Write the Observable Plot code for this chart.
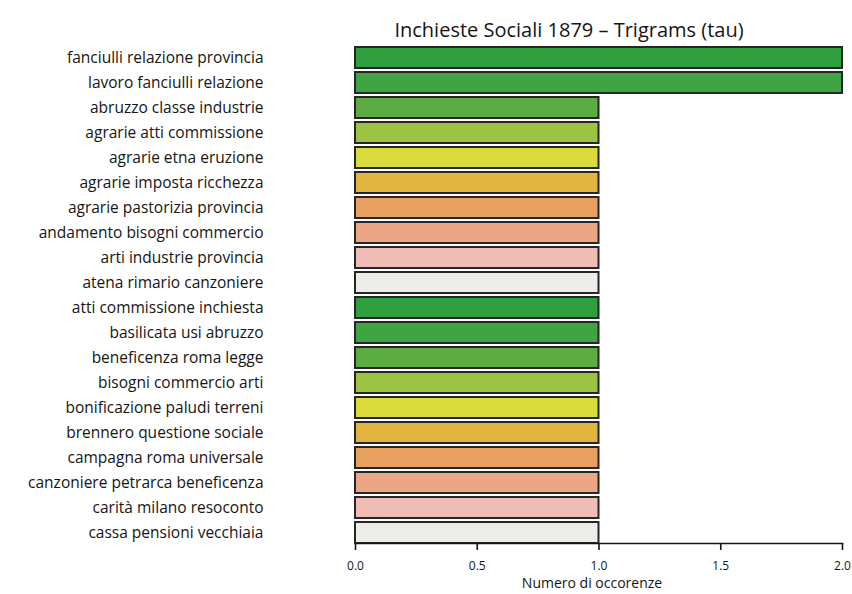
<!DOCTYPE html>
<html>
<head>
<meta charset="utf-8">
<script src="https://cdn.jsdelivr.net/npm/d3@7"></script>
<script src="https://cdn.jsdelivr.net/npm/@observablehq/plot@0.6"></script>
<style>
  body { margin: 0; background: #fff; }
  #chart svg { display: block; }
</style>
</head>
<body>
<div id="chart"></div>
<script>
const categories = [
  "fanciulli relazione provincia",
  "lavoro fanciulli relazione",
  "abruzzo classe industrie",
  "agrarie atti commissione",
  "agrarie etna eruzione",
  "agrarie imposta ricchezza",
  "agrarie pastorizia provincia",
  "andamento bisogni commercio",
  "arti industrie provincia",
  "atena rimario canzoniere",
  "atti commissione inchiesta",
  "basilicata usi abruzzo",
  "beneficenza roma legge",
  "bisogni commercio arti",
  "bonificazione paludi terreni",
  "brennero questione sociale",
  "campagna roma universale",
  "canzoniere petrarca beneficenza",
  "carità milano resoconto",
  "cassa pensioni vecchiaia"
];
const values = [2, 2, 1, 1, 1, 1, 1, 1, 1, 1, 1, 1, 1, 1, 1, 1, 1, 1, 1, 1];
const palette = ["#2f9f3f", "#3fa443", "#5cac43", "#9bc443", "#d9dc3c",
                 "#e2b440", "#e8a060", "#eca585", "#f0bcb6", "#eeece8"];
const xTicks = [0, 0.5, 1, 1.5, 2];
const title = "Inchieste Sociali 1879 – Trigrams (tau)";
const xLabel = "Numero di occorenze";

const data = categories.map((c, i) => ({cat: c, value: values[i], color: palette[i % palette.length]}));

const font = "'Open Sans', sans-serif";

const chart = Plot.plot({
  width: 852,
  height: 594,
  marginTop: 47,
  marginLeft: 355,
  marginRight: 10,
  marginBottom: 51,
  style: {fontFamily: font, background: "#fff", color: "#151515"},
  x: {domain: [0, 2], ticks: xTicks},
  y: {domain: categories, paddingInner: 0.16, paddingOuter: 0},
  marks: [
    Plot.barX(data, {y: "cat", x: "value", fill: "color", stroke: "#262626", strokeWidth: 2}),
    Plot.frame({anchor: "bottom", stroke: "#151515", strokeWidth: 1.5}),
    Plot.axisX({ticks: xTicks, tickSize: 7, tickPadding: 11, tickFormat: d3.format(".1f"),
                fontSize: 12, label: null, stroke: "#151515", strokeWidth: 1.6, fill: "#151515"}),
    Plot.axisY({tickSize: 0, tickPadding: 92, fontSize: 15.5, label: null, fill: "#151515"}),
    Plot.text([xLabel], {frameAnchor: "bottom", dy: 44, dx: -7, fontSize: 14, fill: "#151515"}),
    Plot.text([title], {frameAnchor: "top", dy: -25, dx: -30, fontSize: 20, fill: "#151515"})
  ]
});

document.getElementById("chart").appendChild(chart);
</script>
</body>
</html>
